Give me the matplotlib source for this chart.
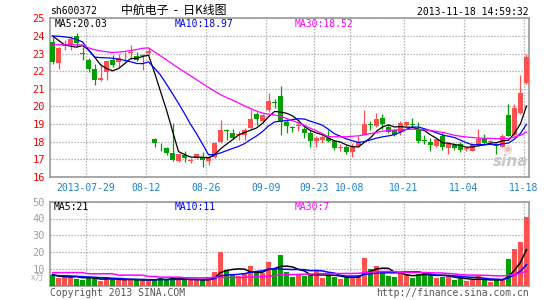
import matplotlib
matplotlib.use('Agg')
import matplotlib.pyplot as plt
import numpy as np
import pandas as pd

# ---------------- data ----------------
opens = [23.65, 22.45, 23.45, 23.47, 24.00, 23.05, 22.62, 22.15, 21.50, 21.96,
         22.62, 22.53, 22.78, 23.03, 22.87, 22.85, 23.05, 18.13, 17.77, 17.66,
         17.38, 16.90, 17.25, 16.93, 17.06, 17.15, 16.92, 17.15, 18.00, 18.68,
         18.47, 18.36, 18.38, 18.80, 19.56, 19.20, 19.78, 20.25, 20.60, 19.10,
         18.83, 18.92, 18.70, 18.47, 18.04, 18.10, 18.20, 18.04, 17.64, 17.68,
         17.40, 17.73, 18.40, 18.97, 18.92, 19.35, 18.85, 18.66, 18.58, 18.95,
         19.00, 18.66, 18.06, 18.00, 17.76, 18.32, 17.64, 17.80, 17.86, 17.60,
         17.50, 17.82, 18.19, 18.00, 17.85, 17.72, 19.50, 18.38, 19.64, 21.33]
highs = [23.95, 23.35, 23.75, 24.00, 24.15, 23.35, 22.75, 22.38, 22.40, 22.60,
         22.90, 23.00, 23.10, 23.47, 23.10, 23.00, 23.30, 18.23, 17.90, 17.72,
         19.05, 17.30, 17.45, 17.05, 17.30, 17.40, 17.20, 17.98, 19.25, 18.75,
         18.70, 18.60, 18.77, 19.88, 19.70, 19.55, 20.75, 20.45, 21.15, 19.30,
         18.90, 19.13, 18.85, 18.65, 18.30, 18.47, 18.65, 18.10, 17.85, 17.80,
         17.92, 18.30, 19.78, 19.20, 19.65, 19.57, 18.95, 18.75, 19.17, 19.17,
         19.35, 19.10, 18.38, 18.20, 18.18, 18.47, 18.00, 17.90, 18.00, 17.72,
         17.95, 18.75, 18.43, 18.08, 17.90, 18.45, 20.12, 20.15, 21.77, 22.98]
lows = [22.40, 22.15, 23.20, 23.20, 23.45, 22.62, 21.95, 21.20, 21.45, 21.50,
        22.25, 22.25, 22.57, 22.72, 22.57, 22.06, 22.90, 17.72, 17.45, 17.25,
        16.92, 16.85, 16.85, 16.78, 17.02, 16.55, 16.68, 17.10, 17.90, 18.10,
        18.13, 18.12, 18.10, 18.70, 18.95, 19.05, 19.70, 19.90, 18.40, 18.50,
        18.55, 18.60, 18.20, 17.72, 17.72, 17.90, 17.98, 17.55, 17.50, 17.30,
        17.12, 17.70, 18.37, 18.65, 18.85, 18.75, 18.50, 18.30, 18.40, 18.90,
        18.80, 17.90, 17.85, 17.50, 17.72, 17.55, 17.28, 17.55, 17.40, 17.47,
        17.45, 17.75, 17.88, 17.85, 17.28, 17.70, 18.30, 18.35, 19.60, 21.25]
closes = [22.55, 23.30, 23.50, 23.85, 23.62, 23.00, 22.10, 21.49, 21.60, 22.57,
          22.34, 22.75, 22.83, 23.08, 22.62, 22.90, 23.12, 17.90, 17.73, 17.34,
          16.96, 17.28, 17.10, 16.98, 17.28, 16.96, 17.12, 17.95, 18.66, 18.62,
          18.22, 18.45, 18.68, 19.28, 19.28, 19.52, 20.30, 20.20, 19.13, 18.92,
          18.79, 18.96, 18.47, 18.04, 18.23, 18.28, 18.04, 17.67, 17.68, 17.42,
          17.78, 17.98, 19.00, 18.93, 19.28, 19.00, 18.57, 18.40, 19.04, 19.12,
          18.96, 18.03, 18.02, 17.82, 18.13, 17.72, 17.87, 17.67, 17.55, 17.64,
          17.80, 18.18, 17.95, 18.04, 17.76, 18.32, 18.35, 19.90, 20.75, 22.83]
volumes = [6.5, 4.7, 5.9, 5.9, 3.9, 3.3, 5.1, 4.7, 2.7, 4.3,
           3.9, 3.5, 3.5, 3.5, 3.5, 2.7, 3.9, 3.9, 4.7, 3.1,
           5.1, 3.9, 3.5, 3.1, 3.1, 3.5, 4.3, 8.2, 20.0, 9.2,
           6.7, 5.9, 7.5, 11.8, 7.3, 7.8, 14.1, 10.2, 18.0, 8.2,
           5.3, 6.7, 5.7, 6.3, 8.6, 4.7, 6.3, 5.3, 3.9, 4.7,
           4.9, 6.3, 16.5, 10.2, 11.8, 7.3, 5.9, 5.1, 7.8, 6.3,
           4.7, 7.1, 7.8, 6.3, 4.7, 5.3, 5.7, 3.3, 4.3, 2.7,
           3.1, 5.7, 3.1, 2.4, 3.1, 3.1, 15.7, 21.6, 25.9, 41.0]

# moving-average values before full windows exist
ma5_head = [24.0, 23.75, 23.5, 23.42]
ma10_head = [24.0, 23.98, 23.95, 23.9, 23.8, 23.66, 23.2, 22.8, 22.77]
ma30_head = [23.5, 23.5, 23.5, 23.5, 23.5, 23.48, 23.32, 23.22, 23.15, 23.1,
             23.06, 23.08, 23.12, 23.17, 23.23, 23.3, 23.32, 23.1, 22.87, 22.64,
             22.41, 22.18, 21.96, 21.74, 21.52, 21.3, 21.08, 20.87, 20.67]
vma5_head = [6.7, 5.7, 5.4, 5.2]
vma10_head = [6.2, 6.0, 5.9, 5.8, 5.6, 5.4, 5.2, 5.0, 4.8]
vma30_head = [7.8, 7.8, 7.8, 7.8, 7.8, 7.8, 7.1, 7.1, 7.1, 7.1,
              7.1, 6.3, 6.3, 6.3, 6.3, 6.3, 5.5, 5.5, 5.1, 5.1,
              5.1, 5.1, 4.7, 4.7, 4.7, 4.7, 4.7, 5.0, 5.0]

tick_index = [6, 16, 26, 36, 44, 50, 59, 69, 79]
tick_labels = ['2013-07-29', '08-12', '08-26', '09-09', '09-23', '10-08', '10-21', '11-04', '11-18']
price_ticks = [16, 17, 18, 19, 20, 21, 22, 23, 24, 25]
vol_ticks = [10, 20, 30, 40, 50]


def moving(values, n, head):
    s = pd.Series(values).rolling(n).mean().to_numpy()
    s[:n - 1] = head
    return s


ma5 = moving(closes, 5, ma5_head)
ma10 = moving(closes, 10, ma10_head)
ma30 = moving(closes, 30, ma30_head)
vma5 = moving(volumes, 5, vma5_head)
vma10 = moving(volumes, 10, vma10_head)
vma30 = moving(volumes, 30, vma30_head)

# ---------------- style ----------------
RED = '#ff5050'
GREEN = '#00a000'
GRID = '#a0a0a0'
FRAME = '#9a9a9a'
MONO = 'DejaVu Sans Mono'
CJK = ['Noto Sans CJK SC', 'DejaVu Sans']
W, H = 545, 300

fig = plt.figure(figsize=(W / 100, H / 100), dpi=100)
fig.patch.set_facecolor('white')

ax = fig.add_axes([50 / W, 1 - 177 / H, 479 / W, (177 - 18.3) / H])
axv = fig.add_axes([50 / W, 1 - 285.7 / H, 479 / W, (285.7 - 201.7) / H])

n = len(closes)
x = np.arange(n)
o = np.array(opens); c = np.array(closes)
hi = np.array(highs); lo = np.array(lows)
up = c >= o
cols = [RED if u else GREEN for u in up]

# candles
ax.vlines(x, lo, hi, colors=cols, linewidth=0.9, zorder=3)
body_bottom = np.minimum(o, c)
body_h = np.maximum(np.abs(c - o), 0.05)
ax.bar(x, body_h, bottom=body_bottom, width=0.82, color=cols, linewidth=0, zorder=3)

ax.plot(x, ma5, color='black', lw=0.9, zorder=4)
ax.plot(x, ma10, color='#0000ff', lw=0.9, zorder=4)
ax.plot(x, ma30, color='#ff00ff', lw=0.9, zorder=4)

# volume
axv.bar(x, volumes, width=0.82, color=cols, linewidth=0, zorder=3)
axv.plot(x, vma5, color='black', lw=1.1, zorder=4)
axv.plot(x, vma10, color='#0000ff', lw=1.1, zorder=4)
axv.plot(x, vma30, color='#ff00ff', lw=1.1, zorder=4)

grid_x = [i - 0.42 for i in tick_index]
for a in (ax, axv):
    a.set_xlim(-0.42, n - 1 + 0.42)
    for s in a.spines.values():
        s.set_color(FRAME)
        s.set_linewidth(1.2)
    a.set_xticks(grid_x)
    a.grid(True, color=GRID, linestyle=(0, (1, 1.4)), linewidth=0.9, zorder=0)
    a.set_axisbelow(True)
    a.tick_params(length=0)

ax.set_ylim(16, 25)
ax.set_yticks(price_ticks)
ax.set_yticklabels([str(t) for t in price_ticks], color='#ff0000', fontsize=7.5, family=MONO)
ax.tick_params(axis='y', pad=3.5)
ax.set_xticklabels(tick_labels, color='#1a80d0', fontsize=7, family=MONO)
ax.tick_params(axis='x', pad=4)

axv.set_ylim(0, 50)
axv.set_yticks(vol_ticks)
axv.set_yticklabels([str(t) for t in vol_ticks], color='#a0a0a0', fontsize=7.5, family=MONO)
axv.tick_params(axis='y', pad=3.5)
axv.set_xticklabels([])


def ftext(px, py, s, **kw):
    kw.setdefault('family', MONO)
    kw.setdefault('fontsize', 7)
    kw.setdefault('va', 'center')
    fig.text(px / W, 1 - py / H, s, **kw)


ftext(50, 11, 'sh600372', color='black')
ftext(121, 10.5, '中航电子  -  日K线图', color='black', family=CJK, fontsize=8.6)
ftext(529, 12, '2013-11-18 14:59:32', color='black', ha='right')

ftext(55, 24, 'MA5:20.03', color='black')
ftext(175, 24, 'MA10:18.97', color='#0000ff')
ftext(295, 24, 'MA30:18.52', color='#ff00ff')

ftext(54, 206.5, 'MA5:21', color='black')
ftext(175, 206.5, 'MA10:11', color='#0000ff')
ftext(295, 206.5, 'MA30:7', color='#ff00ff')

ftext(44, 278, 'x万', color='#b0b0b0', ha='right', family=CJK, fontsize=6.5)
ftext(50, 292.5, 'Copyright 2013 SINA.COM', color='#555555')
ftext(529, 292.5, 'http://finance.sina.com.cn', color='#555555', ha='right')

# watermark
ftext(511, 162, 'sina', color='#c8c8c8', ha='center', family='DejaVu Sans',
      fontsize=11, fontstyle='italic', fontweight='bold')
ftext(507, 149, '◉', color='#f2b8b8', ha='center', family='DejaVu Sans', fontsize=8)

fig.savefig('out.png', dpi=100, facecolor='white')
